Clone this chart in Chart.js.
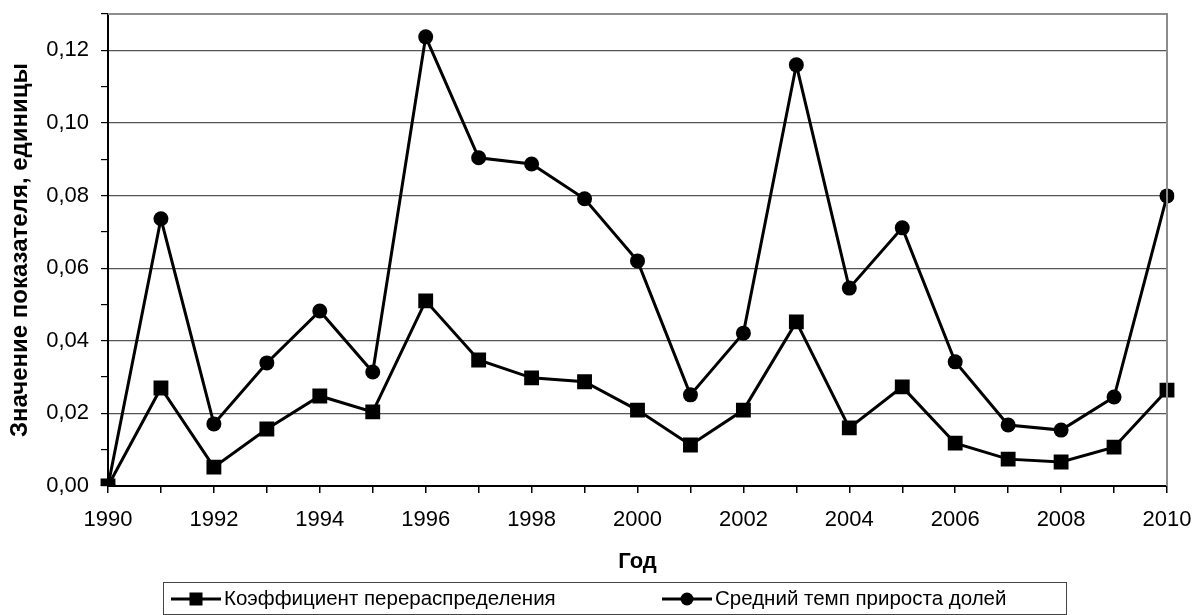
<!DOCTYPE html>
<html>
<head>
<meta charset="utf-8">
<script src="https://cdn.jsdelivr.net/npm/chart.js@4.4.0/dist/chart.umd.min.js"></script>
<style>
  html, body { margin: 0; padding: 0; background: #fff; }
  #wrap { width: 1194px; height: 615px; }
</style>
</head>
<body>
<div id="wrap"><canvas id="chart"></canvas></div>
<script>
const years = [1990, 1991, 1992, 1993, 1994, 1995, 1996, 1997, 1998, 1999, 2000,
  2001, 2002, 2003, 2004, 2005, 2006, 2007, 2008, 2009, 2010];
const coefRedistribution = [0, 0.0270, 0.0052, 0.0157, 0.0248, 0.0204, 0.0510, 0.0347,
  0.0298, 0.0287, 0.0209, 0.0113, 0.0209, 0.0452, 0.0160, 0.0273, 0.0118, 0.0074,
  0.0066, 0.0107, 0.0264];
const avgShareGrowth = [0, 0.0736, 0.0171, 0.0339, 0.0482, 0.0314, 0.1237, 0.0904,
  0.0887, 0.0791, 0.0620, 0.0251, 0.0421, 0.1160, 0.0545, 0.0711, 0.0342, 0.0168,
  0.0154, 0.0245, 0.0799];
const seriesNames = ["Коэффициент перераспределения", "Средний темп прироста долей"];
const axisTitles = { x: "Год", y: "Значение показателя, единицы" };

const FONT = '"Liberation Sans", Arial, sans-serif';
const hundredths = (v) => Math.round(v * 100);

// frame: gray top/right border like the Excel plot area
const plotFrame = {
  id: "plotFrame",
  afterDatasetsDraw(chart) {
    const { ctx, chartArea: a } = chart;
    ctx.save();
    ctx.strokeStyle = "#8c8c8c";
    ctx.lineWidth = 2;
    ctx.beginPath();
    ctx.moveTo(a.left, a.top);
    ctx.lineTo(a.right, a.top);
    ctx.lineTo(a.right, a.bottom);
    ctx.stroke();
    ctx.restore();
  }
};

// boxed legend with line+marker symbols
const boxLegend = {
  id: "boxLegend",
  afterDraw(chart) {
    const ctx = chart.ctx;
    const top = 582, bottom = 614, left = 163, right = 1066;
    const cy = (top + bottom) / 2 + 1;
    ctx.save();
    ctx.font = "20.5px " + FONT;
    ctx.textBaseline = "middle";
    const starts = [left + 8, 662];
    chart.data.datasets.forEach((ds, i) => {
      const x = starts[i];
      ctx.strokeStyle = "#000";
      ctx.lineWidth = 3;
      ctx.beginPath();
      ctx.moveTo(x, cy);
      ctx.lineTo(x + 50, cy);
      ctx.stroke();
      ctx.fillStyle = "#000";
      if (ds.pointStyle === "rect") {
        ctx.fillRect(x + 25 - 6.5, cy - 6.5, 13, 13);
      } else {
        ctx.beginPath();
        ctx.arc(x + 25, cy, 6.5, 0, Math.PI * 2);
        ctx.fill();
      }
      ctx.fillText(ds.label, x + 53, cy);
    });
    ctx.strokeStyle = "#444";
    ctx.lineWidth = 1;
    ctx.strokeRect(left + 0.5, top + 0.5, right - left, bottom - top);
    ctx.restore();
  }
};

new Chart(document.getElementById("chart"), {
  type: "line",
  data: {
    labels: years,
    datasets: [
      {
        label: seriesNames[0],
        data: coefRedistribution,
        borderColor: "#000",
        backgroundColor: "#000",
        borderWidth: 3,
        pointStyle: "rect",
        pointRadius: 10.5,
        pointBorderWidth: 0,
        tension: 0
      },
      {
        label: seriesNames[1],
        data: avgShareGrowth,
        borderColor: "#000",
        backgroundColor: "#000",
        borderWidth: 3,
        pointStyle: "circle",
        pointRadius: 7.5,
        pointBorderWidth: 0,
        tension: 0
      }
    ]
  },
  options: {
    responsive: true,
    maintainAspectRatio: false,
    animation: false,
    layout: { padding: { top: 14, right: 27, bottom: 40, left: 0 } },
    plugins: {
      legend: { display: false },
      tooltip: { enabled: false }
    },
    scales: {
      x: {
        offset: false,
        afterFit: (scale) => {
          scale.height = 89;
          scale.paddingLeft = 0;
          scale.paddingRight = 0;
        },
        border: { color: "#000", width: 2 },
        grid: { drawOnChartArea: false, tickColor: "#000", tickLength: 7, lineWidth: 1.5 },
        ticks: {
          autoSkip: false,
          maxRotation: 0,
          padding: 14,
          color: "#000",
          font: { family: FONT, size: 22 },
          callback(value, index) { return index % 2 === 0 ? this.getLabelForValue(value) : ""; }
        },
        title: {
          display: true,
          text: axisTitles.x,
          color: "#000",
          font: { family: FONT, size: 22, weight: "bold" },
          padding: { top: 0, bottom: 0 }
        }
      },
      y: {
        min: 0,
        max: 0.13,
        afterFit: (scale) => {
          scale.width = 108;
          scale.paddingTop = 0;
          scale.paddingBottom = 0;
        },
        border: { color: "#000", width: 2 },
        grid: {
          tickColor: "#000",
          tickLength: 7,
          lineWidth: 1.2,
          color: (c) => {
            const h = hundredths(c.tick.value);
            return h % 2 === 0 && h < 13 ? "#555" : "rgba(0,0,0,0)";
          }
        },
        ticks: {
          stepSize: 0.01,
          padding: 12,
          color: "#000",
          font: { family: FONT, size: 22 },
          callback: (v) => hundredths(v) % 2 === 0 && hundredths(v) < 13 ? v.toFixed(2).replace(".", ",") : ""
        },
        title: {
          display: true,
          text: axisTitles.y,
          color: "#000",
          font: { family: FONT, size: 24, weight: "bold" },
          padding: { top: 6, bottom: 0 }
        }
      }
    }
  },
  plugins: [plotFrame, boxLegend]
});
</script>
</body>
</html>
